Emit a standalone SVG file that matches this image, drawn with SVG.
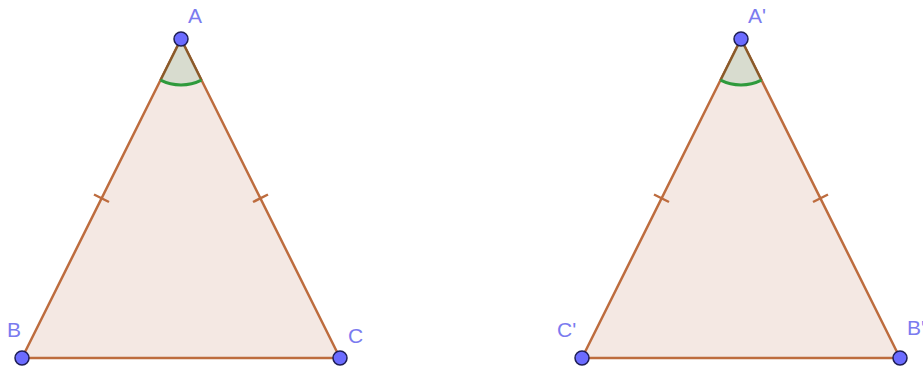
<svg xmlns="http://www.w3.org/2000/svg" width="923" height="374" viewBox="0 0 923 374">
<defs>
<style>
.tri{fill:#f4e8e3;stroke:#bd6c3e;stroke-width:2.5;stroke-linejoin:round}
.wedge{fill:#d8dccf;stroke:none}
.wedge-edge{stroke:#8a5a2a;stroke-width:2.5;fill:none}
.arc{fill:none;stroke:#2f9a3c;stroke-width:3}
.tick{stroke:#bd6c3e;stroke-width:2.5}
.pt{fill:#6b6bff;stroke:#1f1f55;stroke-width:1.5}
.lbl{font-family:"Liberation Sans",Arial,sans-serif;font-size:21px;fill:#7b7bef}
</style>
</defs>
<rect width="923" height="374" fill="#ffffff"/>
<g id="triangle-ABC">
<polygon class="tri" points="181,39 22,358 340,358"/>
<path class="wedge" d="M181,39 L160.5,80.2 A46,46 0 0 0 201.5,80.2 Z"/>
<path class="wedge-edge" d="M160.5,80.2 L181,39 L201.5,80.2"/>
<path class="arc" d="M160.5,80.2 A46,46 0 0 0 201.5,80.2"/>
<line class="tick" x1="94" y1="194.5" x2="109" y2="202"/>
<line class="tick" x1="253" y1="202" x2="268" y2="194.5"/>
</g>
<g id="triangle-A1C1B1">
<polygon class="tri" points="741,39 582,358 900,358"/>
<path class="wedge" d="M741,39 L720.5,80.2 A46,46 0 0 0 761.5,80.2 Z"/>
<path class="wedge-edge" d="M720.5,80.2 L741,39 L761.5,80.2"/>
<path class="arc" d="M720.5,80.2 A46,46 0 0 0 761.5,80.2"/>
<line class="tick" x1="654" y1="194.5" x2="669" y2="202"/>
<line class="tick" x1="813" y1="202" x2="828" y2="194.5"/>
</g>
<g id="point-A"><circle class="pt" cx="181" cy="39" r="7"/><text class="lbl" x="188" y="23">A</text></g>
<g id="point-B"><circle class="pt" cx="22" cy="358" r="7"/><text class="lbl" x="7" y="337">B</text></g>
<g id="point-C"><circle class="pt" cx="340" cy="358" r="7"/><text class="lbl" x="348" y="343">C</text></g>
<g id="point-A1"><circle class="pt" cx="741" cy="39" r="7"/><text class="lbl" x="748" y="23">A'</text></g>
<g id="point-C1"><circle class="pt" cx="582" cy="358" r="7"/><text class="lbl" x="557" y="337">C'</text></g>
<g id="point-B1"><circle class="pt" cx="900" cy="358" r="7"/><text class="lbl" x="907" y="335">B'</text></g>
</svg>
